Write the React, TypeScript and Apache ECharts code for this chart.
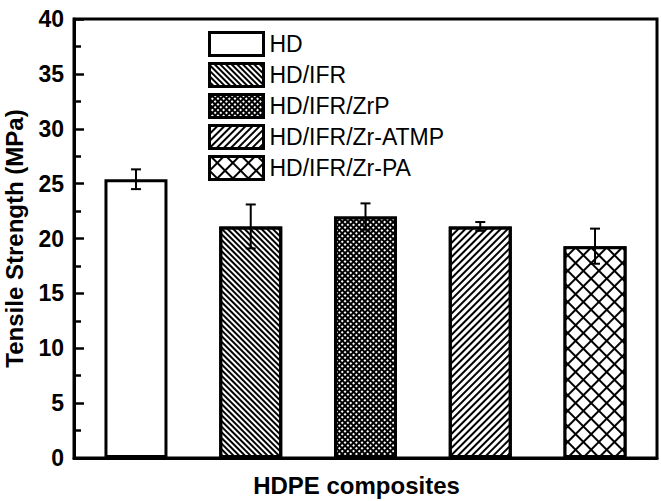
import React, { useEffect, useRef } from "react";
import * as echarts from "echarts";

const categories = ["HD", "HD/IFR", "HD/IFR/ZrP", "HD/IFR/Zr-ATMP", "HD/IFR/Zr-PA"];
const strengths = [25.4, 21.1, 22.0, 21.1, 19.3];
const errors = [0.9, 2.0, 1.2, 0.4, 1.6];
const yTicks = { min: 0, max: 40, interval: 5 };
const xTitle = "HDPE composites";
const yTitle = "Tensile Strength (MPa)";

const FONT = "Arial, 'Liberation Sans', Helvetica, sans-serif";

const fills = ["#fff", "#fff", "#000", "#fff", "#000"];
const decals: any[] = [
  null,
  { symbol: "rect", dashArrayX: [1, 0], dashArrayY: [2, 2], rotation: Math.PI / 4, color: "#000", symbolSize: 1 },
  { symbol: "rect", dashArrayX: [2, 2], dashArrayY: [2, 2], rotation: Math.PI / 4, color: "#fff", symbolSize: 1 },
  { symbol: "rect", dashArrayX: [1, 0], dashArrayY: [2, 3], rotation: -Math.PI / 4, color: "#000", symbolSize: 1 },
  { symbol: "rect", dashArrayX: [9, 2], dashArrayY: [9, 2], rotation: Math.PI / 4, color: "#fff", symbolSize: 1 },
];

export default function App() {
  const ref = useRef<HTMLDivElement>(null);
  useEffect(() => {
    if (!ref.current) return;
    const chart = echarts.init(ref.current, null, { renderer: "svg" });
    const barSeries = categories.map((name, i) => ({
      name,
      type: "bar",
      barWidth: 63,
      barGap: "-100%",
      data: [[i + 1, strengths[i]]],
      itemStyle: {
        color: fills[i],
        borderColor: "#000",
        borderWidth: 3,
        ...(decals[i] ? { decal: decals[i] } : {}),
      },
      z: 2,
    }));
    const errSeries = {
      type: "custom",
      name: "err",
      z: 5,
      data: strengths.map((v, i) => [i + 1, v, errors[i]]),
      encode: { x: 0, y: 1 },
      renderItem: (params: any, api: any) => {
        const x = api.value(0);
        const y = api.value(1);
        const e = api.value(2);
        const top = api.coord([x, y + e]);
        const bot = api.coord([x, y - e]);
        const hw = 5;
        const style = { stroke: "#000", lineWidth: 2 };
        return {
          type: "group",
          children: [
            { type: "line", shape: { x1: top[0], y1: top[1], x2: bot[0], y2: bot[1] }, style },
            { type: "line", shape: { x1: top[0] - hw, y1: top[1], x2: top[0] + hw, y2: top[1] }, style },
            { type: "line", shape: { x1: bot[0] - hw, y1: bot[1], x2: bot[0] + hw, y2: bot[1] }, style },
          ],
        };
      },
    };
    chart.setOption({
      animation: false,
      backgroundColor: "#fff",
      grid: {
        left: 74,
        right: 4,
        top: 19,
        bottom: 43,
        show: true,
        borderColor: "#000",
        borderWidth: 3,
        backgroundColor: "transparent",
        outerBoundsMode: "none",
      },
      legend: {
        data: categories,
        orient: "vertical",
        left: 208,
        top: 31,
        itemWidth: 54,
        itemHeight: 23,
        itemGap: 5,
        padding: 0,
        icon: "rect",
        itemStyle: { borderWidth: 3, borderColor: "#000" },
        textStyle: { fontFamily: FONT, fontSize: 23, color: "#000", padding: [0, 0, 0, 1] },
        selectedMode: false,
      },
      xAxis: {
        type: "value",
        min: 0.46,
        max: 5.54,
        name: xTitle,
        nameLocation: "middle",
        nameGap: 15,
        nameTextStyle: { fontFamily: FONT, fontSize: 24, fontWeight: "bold", color: "#000", padding: [0, 18, 0, 0] },
        axisLine: { show: true, onZero: false, lineStyle: { color: "#000", width: 3 } },
        axisTick: { show: false },
        axisLabel: { show: false },
        splitLine: { show: false },
      },
      yAxis: {
        type: "value",
        min: yTicks.min,
        max: yTicks.max,
        interval: yTicks.interval,
        name: yTitle,
        nameLocation: "middle",
        nameGap: 48,
        nameTextStyle: { fontFamily: FONT, fontSize: 24, fontWeight: "bold", color: "#000" },
        axisLine: { show: true, lineStyle: { color: "#000", width: 3 } },
        axisTick: { show: true, inside: true, length: 10, lineStyle: { color: "#000", width: 2.5 } },
        minorTick: { show: true, splitNumber: 2, length: 7, lineStyle: { color: "#000", width: 2.5 } },
        axisLabel: { fontFamily: FONT, fontSize: 23, fontWeight: "bold", color: "#000", margin: 10 },
        splitLine: { show: false },
        minorSplitLine: { show: false },
      },
      series: [...barSeries, errSeries],
    });
    return () => chart.dispose();
  }, []);
  return <div ref={ref} style={{ width: 661, height: 501, position: "absolute", left: 0, top: 0 }} />;
}
